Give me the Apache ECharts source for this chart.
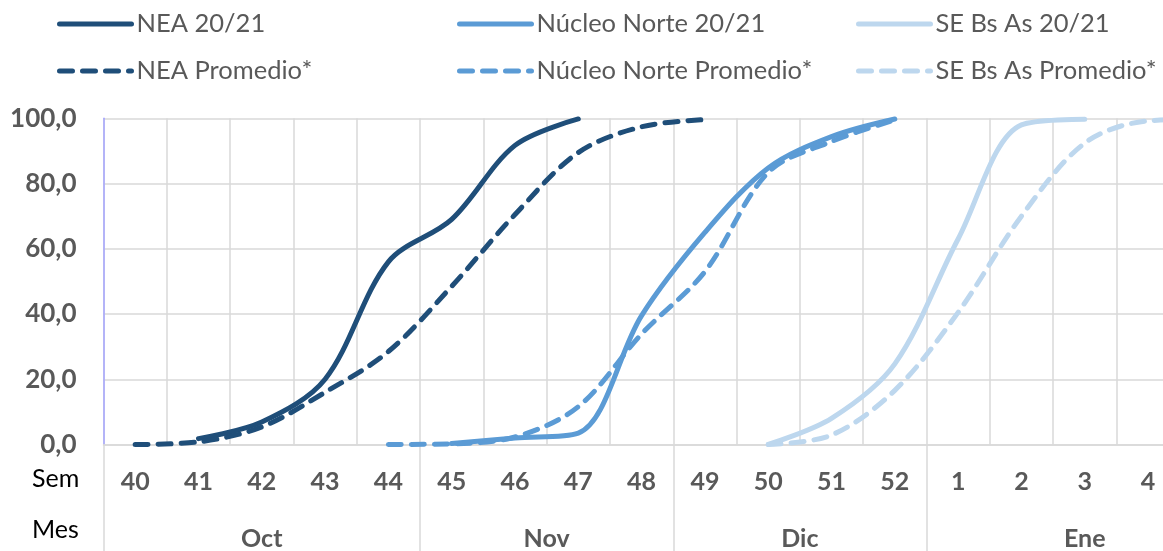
<!DOCTYPE html>
<html>
<head>
<meta charset="utf-8">
<script src="https://cdn.jsdelivr.net/npm/echarts@6/dist/echarts.min.js"></script>
<style>
html,body{margin:0;padding:0;background:#fff;overflow:hidden;width:1163px;height:551px;}
#chart{width:1260px;height:551px;}
</style>
</head>
<body>
<div id="chart"></div>
<script>
// ---- data ----
const weeks = ['40','41','42','43','44','45','46','47','48','49','50','51','52','1','2','3','4','5'];
const months = ['Oct','Nov','Dic','Ene'];
const monthWeekCounts = [5,4,4,5];
const yTicks = [0,20,40,60,80,100];

const nea2021      = [null,1.8,6.9,20,56,69,91.7,99.8,null,null,null,null,null,null,null,null,null,null];
const neaProm      = [0,0.8,5.4,16,28.5,48.5,70.5,89.5,97.4,99.6,null,null,null,null,null,null,null,null];
const nucleo2021   = [null,null,null,null,null,0.3,2,3.5,39.5,65,84.8,94.4,99.8,null,null,null,null,null];
const nucleoProm   = [null,null,null,null,0,0.2,2.3,11.6,33.9,53,83.4,92.9,99.5,null,null,null,null,null];
const se2021       = [null,null,null,null,null,null,null,null,null,null,0,8,24.7,63,98,99.7,null,null];
const seProm       = [null,null,null,null,null,null,null,null,null,null,0,2.9,16.6,40.5,70,92.4,99.2,99.8];

const seriesNames = ['NEA 20/21','NEA Promedio*','Núcleo Norte 20/21','Núcleo Norte Promedio*','SE Bs As 20/21','SE Bs As Promedio*'];

// month boundaries / centres on a 0..N value scale
const monthBounds = [0];
monthWeekCounts.forEach(c => monthBounds.push(monthBounds[monthBounds.length-1] + c));
const monthMids = months.map((m,i) => (monthBounds[i] + monthBounds[i+1]) / 2);

const FONT = 'Lato, "Open Sans", sans-serif';
const GREY = '#595959';
const GRID = '#D9D9D9';
const C1 = '#1F4E79', C2 = '#5B9BD5', C3 = '#BDD7EE';
const DASH = [13, 10];

function mkSeries(name, data, color, dashed) {
  return {
    name: name, type: 'line', data: data, smooth: 0.33, symbol: 'none', showSymbol: false,
    connectNulls: false, xAxisIndex: 0, yAxisIndex: 0,
    lineStyle: { color: color, width: 5, type: dashed ? DASH : 'solid', cap: 'round', join: 'round' },
    itemStyle: { color: color }
  };
}

const legendBase = {
  orient: 'vertical', top: 6, itemWidth: 72, itemHeight: 26, itemGap: 21,
  textStyle: { fontFamily: FONT, fontSize: 25.5, color: GREY, lineHeight: 26 },
  itemStyle: { opacity: 0 },
  lineStyle: { width: 5, cap: 'round' },
  selectedMode: false
};

const chart = echarts.init(document.getElementById('chart'), null, { renderer: 'canvas' });
chart.setOption({
  animation: false,
  backgroundColor: '#fff',
  legend: [
    Object.assign({}, legendBase, { left: 52, data: [seriesNames[0], seriesNames[1]] }),
    Object.assign({}, legendBase, { left: 452, data: [seriesNames[2], seriesNames[3]] }),
    Object.assign({}, legendBase, { left: 851, data: [seriesNames[4], seriesNames[5]] })
  ],
  grid: { left: 103.5, right: 17, top: 118.3, bottom: 105, containLabel: false },
  xAxis: [
    {
      type: 'category', data: weeks, boundaryGap: true, position: 'bottom',
      axisLine: { show: true, lineStyle: { color: GRID, width: 1.5 } },
      axisTick: { show: false },
      axisLabel: { interval: 0, margin: 37, verticalAlign: 'middle', fontFamily: FONT, fontSize: 25, fontWeight: 'bold', color: GREY },
      splitLine: { show: true, interval: 0, lineStyle: { color: GRID, width: 1.5 } }
    },
    {
      type: 'value', min: 0, max: weeks.length, position: 'bottom',
      axisLine: { show: false },
      splitLine: { show: false },
      axisTick: { show: true, customValues: monthBounds, length: 115, lineStyle: { color: GRID, width: 1.5 } },
      axisLabel: {
        customValues: monthMids, margin: 94, verticalAlign: 'middle',
        fontFamily: FONT, fontSize: 25, fontWeight: 'bold', color: GREY,
        formatter: function (v) { const i = monthMids.indexOf(v); return i >= 0 ? months[i] : ''; }
      }
    }
  ],
  yAxis: {
    type: 'value', min: yTicks[0], max: yTicks[yTicks.length-1], interval: 20,
    axisLine: { show: true, lineStyle: { color: '#A5A5FF', width: 1.5 } },
    axisTick: { show: false },
    axisLabel: { margin: 27, fontFamily: FONT, fontSize: 26, fontWeight: 'bold', color: GREY,
      formatter: v => v.toFixed(1).replace('.', ',') },
    splitLine: { show: true, lineStyle: { color: GRID, width: 1.5 } }
  },
  graphic: [
    { type: 'text', left: 32, top: 466, style: { text: 'Sem', font: '25px ' + FONT, fill: '#000' } },
    { type: 'text', left: 32, top: 517, style: { text: 'Mes', font: '25px ' + FONT, fill: '#000' } }
  ],
  series: [
    mkSeries(seriesNames[4], se2021, C3, false),
    mkSeries(seriesNames[5], seProm, C3, true),
    mkSeries(seriesNames[2], nucleo2021, C2, false),
    mkSeries(seriesNames[3], nucleoProm, C2, true),
    mkSeries(seriesNames[0], nea2021, C1, false),
    mkSeries(seriesNames[1], neaProm, C1, true)
  ]
});
</script>
</body>
</html>
